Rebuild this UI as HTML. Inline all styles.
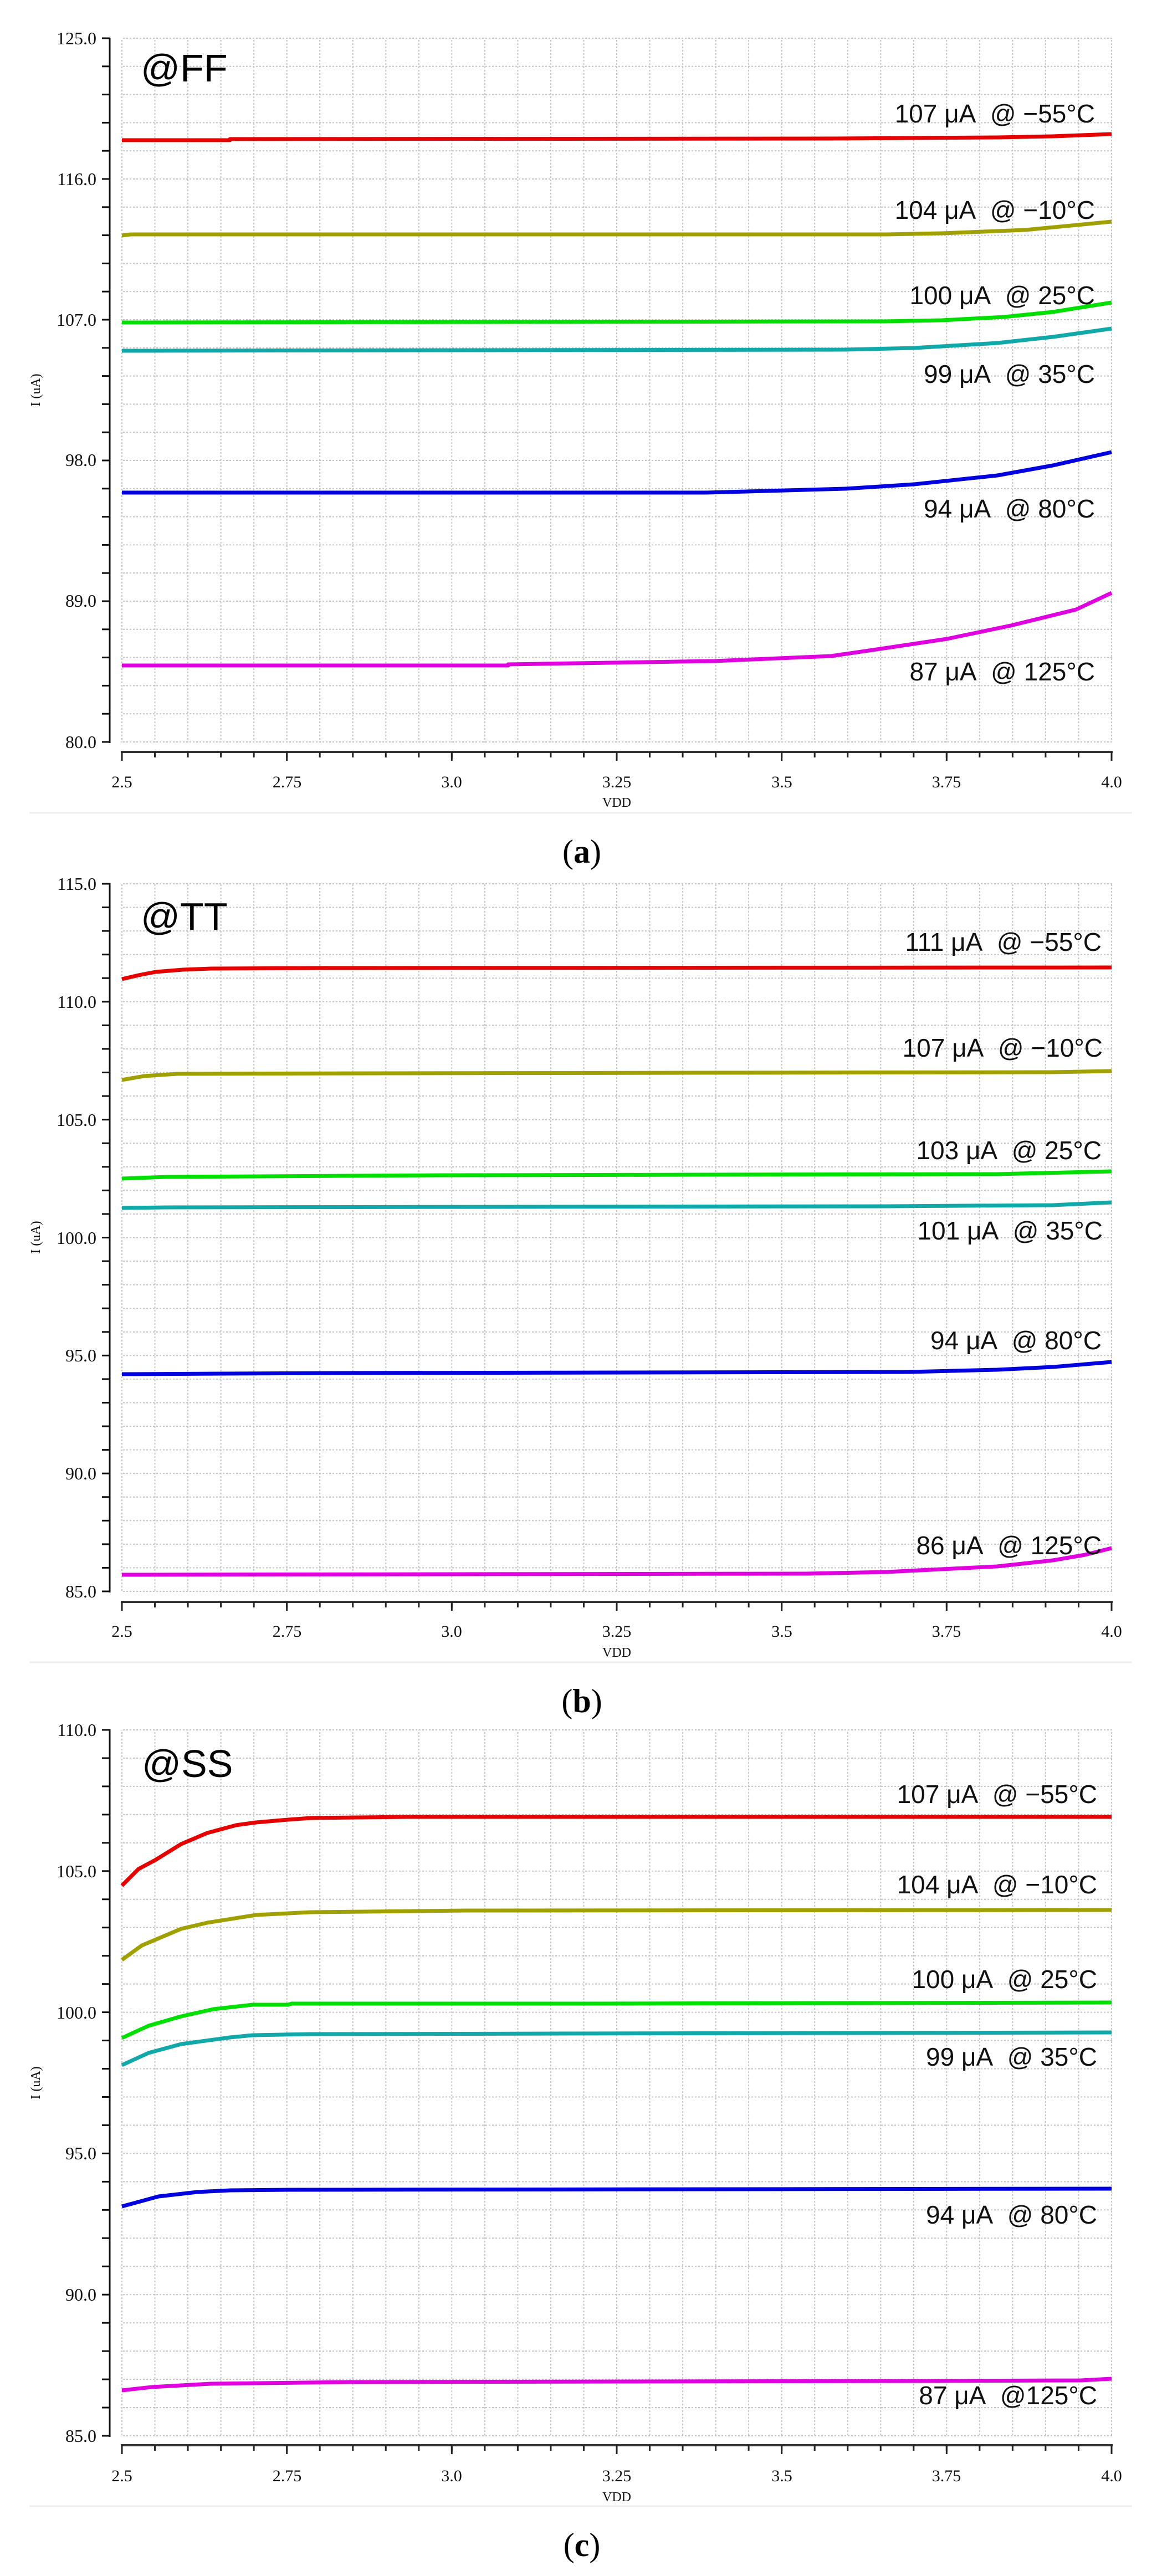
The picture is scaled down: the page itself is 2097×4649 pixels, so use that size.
<!DOCTYPE html>
<html><head><meta charset="utf-8"><style>
html,body{margin:0;padding:0;background:#fff}
svg{display:block}
.lab{font-family:"Liberation Sans",sans-serif;font-size:46px;fill:#111}
.cor{font-family:"Liberation Sans",sans-serif;font-size:70px;fill:#000}
.tk{font-family:"Liberation Serif",serif;font-size:30px;fill:#111}
.yl{font-family:"Liberation Serif",serif;font-size:32px;fill:#111;text-anchor:end}
.cap{font-family:"Liberation Serif",serif;font-size:60px;fill:#000;text-anchor:middle}
.ax{font-family:"Liberation Serif",serif;font-size:24px;fill:#111}
.c{fill:none;stroke-width:7;stroke-linejoin:round}
</style></head><body>
<svg width="2097" height="4649" viewBox="0 0 2097 4649" xmlns="http://www.w3.org/2000/svg">
<defs>
<pattern id="vg" patternUnits="userSpaceOnUse" x="219" y="0" width="59.533" height="6"><rect x="0" y="0" width="2" height="3" fill="#c4c4c4"/></pattern>
<pattern id="hga" patternUnits="userSpaceOnUse" x="0" y="68" width="6" height="50.8"><rect x="0" y="0" width="3" height="2" fill="#c4c4c4"/></pattern>
<pattern id="hgb" patternUnits="userSpaceOnUse" x="0" y="1594" width="6" height="42.567"><rect x="0" y="0" width="3" height="2" fill="#c4c4c4"/></pattern>
<pattern id="hgc" patternUnits="userSpaceOnUse" x="0" y="3121" width="6" height="50.96"><rect x="0" y="0" width="3" height="2" fill="#c4c4c4"/></pattern>
<pattern id="yta" patternUnits="userSpaceOnUse" x="0" y="67.5" width="20" height="50.8"><rect x="0" y="0" width="20" height="3" fill="#111"/></pattern>
<pattern id="ytb" patternUnits="userSpaceOnUse" x="0" y="1593.5" width="20" height="42.567"><rect x="0" y="0" width="20" height="3" fill="#111"/></pattern>
<pattern id="ytc" patternUnits="userSpaceOnUse" x="0" y="3120.5" width="20" height="50.96"><rect x="0" y="0" width="20" height="3" fill="#111"/></pattern>
<pattern id="xtm" patternUnits="userSpaceOnUse" x="218.5" y="0" width="59.533" height="20"><rect x="0" y="0" width="3" height="20" fill="#222"/></pattern>
<pattern id="xtM" patternUnits="userSpaceOnUse" x="218.5" y="0" width="297.667" height="20"><rect x="0" y="0" width="3" height="20" fill="#222"/></pattern>
</defs>

<!-- ===== Panel a ===== -->
<rect x="219" y="69" width="1790" height="1271" fill="url(#vg)"/>
<rect x="219" y="68" width="1790" height="1273" fill="url(#hga)"/>
<rect x="184" y="67" width="14" height="1274" fill="url(#yta)"/>
<line x1="198" y1="68" x2="198" y2="1341" stroke="#111" stroke-width="3"/>
<line x1="218" y1="1357" x2="2008" y2="1357" stroke="#333" stroke-width="4"/>
<rect x="218" y="1357" width="1791" height="10" fill="url(#xtm)"/>
<rect x="218" y="1357" width="1791" height="16" fill="url(#xtM)"/>
<text class="yl" x="174" y="80">125.0</text>
<text class="yl" x="174" y="334">116.0</text>
<text class="yl" x="174" y="588">107.0</text>
<text class="yl" x="174" y="841">98.0</text>
<text class="yl" x="174" y="1095">89.0</text>
<text class="yl" x="174" y="1350">80.0</text>
<text class="ax" transform="translate(72,704) rotate(-90)" text-anchor="middle">I (uA)</text>
<g class="tk" text-anchor="middle">
<text x="220" y="1421">2.5</text><text x="518" y="1421">2.75</text><text x="815" y="1421">3.0</text><text x="1113" y="1421">3.25</text><text x="1411" y="1421">3.5</text><text x="1708" y="1421">3.75</text><text x="2006" y="1421">4.0</text>
</g>
<text class="ax" x="1113" y="1456" text-anchor="middle">VDD</text>
<text class="cor" x="254" y="147">@FF</text>
<polyline class="c" stroke="#e60000" points="220,253 415,253 415,251 1500,250 1800,248 1900,246 2006,242"/>
<polyline class="c" stroke="#a0a000" points="220,425 236,423 1600,423 1700,421 1850,415 2006,400"/>
<polyline class="c" stroke="#00e000" points="220,582 1596,580 1700,578 1812,572 1900,563 2006,546"/>
<polyline class="c" stroke="#10a8a8" points="220,633 1525,631 1650,628 1800,619 1900,608 2006,593"/>
<polyline class="c" stroke="#0000e0" points="220,889 1275,889 1526,882 1650,874 1800,858 1900,840 2006,816"/>
<polyline class="c" stroke="#e000e0" points="220,1201 917,1201 917,1199 1290,1193 1500,1184 1609,1168 1709,1153 1824,1129 1942,1100 2006,1070"/>
<g class="lab" text-anchor="end">
<text x="1976" y="221">107 μA&#160; @ −55°C</text>
<text x="1976" y="395">104 μA&#160; @ −10°C</text>
<text x="1976" y="549">100 μA&#160; @ 25°C</text>
<text x="1976" y="691">99 μA&#160; @ 35°C</text>
<text x="1976" y="934">94 μA&#160; @ 80°C</text>
<text x="1976" y="1228">87 μA&#160; @ 125°C</text>
</g>
<line x1="53" y1="1467" x2="2043" y2="1467" stroke="#eee" stroke-width="3"/>
<text class="cap" x="1050" y="1557">(<tspan font-weight="bold">a</tspan>)</text>

<!-- ===== Panel b ===== -->
<rect x="219" y="1595" width="1790" height="1278" fill="url(#vg)"/>
<rect x="219" y="1594" width="1790" height="1280" fill="url(#hgb)"/>
<rect x="184" y="1593" width="14" height="1281" fill="url(#ytb)"/>
<line x1="198" y1="1594" x2="198" y2="2874" stroke="#111" stroke-width="3"/>
<line x1="218" y1="2891" x2="2008" y2="2891" stroke="#333" stroke-width="4"/>
<rect x="218" y="2891" width="1791" height="10" fill="url(#xtm)"/>
<rect x="218" y="2891" width="1791" height="16" fill="url(#xtM)"/>
<text class="yl" x="174" y="1606">115.0</text>
<text class="yl" x="174" y="1819">110.0</text>
<text class="yl" x="174" y="2032">105.0</text>
<text class="yl" x="174" y="2245">100.0</text>
<text class="yl" x="174" y="2457">95.0</text>
<text class="yl" x="174" y="2670">90.0</text>
<text class="yl" x="174" y="2883">85.0</text>
<text class="ax" transform="translate(72,2233) rotate(-90)" text-anchor="middle">I (uA)</text>
<g class="tk" text-anchor="middle">
<text x="220" y="2954">2.5</text><text x="518" y="2954">2.75</text><text x="815" y="2954">3.0</text><text x="1113" y="2954">3.25</text><text x="1411" y="2954">3.5</text><text x="1708" y="2954">3.75</text><text x="2006" y="2954">4.0</text>
</g>
<text class="ax" x="1113" y="2990" text-anchor="middle">VDD</text>
<text class="cor" x="254" y="1678">@TT</text>
<polyline class="c" stroke="#e60000" points="220,1767 250,1760 281,1754 330,1750 381,1748 595,1747 2006,1746"/>
<polyline class="c" stroke="#a0a000" points="220,1949 260,1942 320,1938 700,1937 1900,1935 2006,1933"/>
<polyline class="c" stroke="#00e000" points="220,2127 300,2124 800,2121 1800,2119 2006,2114"/>
<polyline class="c" stroke="#10a8a8" points="220,2180 300,2179 1600,2177 1900,2175 2006,2170"/>
<polyline class="c" stroke="#0000e0" points="220,2480 600,2478 1640,2476 1800,2472 1900,2467 2006,2458"/>
<polyline class="c" stroke="#e000e0" points="220,2842 1456,2840 1600,2837 1799,2827 1900,2816 1958,2806 2006,2794"/>
<g class="lab" text-anchor="end">
<text x="1988" y="1716">111 μA&#160; @ −55°C</text>
<text x="1990" y="1907">107 μA&#160; @ −10°C</text>
<text x="1988" y="2092">103 μA&#160; @ 25°C</text>
<text x="1990" y="2237">101 μA&#160; @ 35°C</text>
<text x="1988" y="2435">94 μA&#160; @ 80°C</text>
<text x="1988" y="2805">86 μA&#160; @ 125°C</text>
</g>
<line x1="53" y1="3000" x2="2043" y2="3000" stroke="#eee" stroke-width="3"/>
<text class="cap" x="1050" y="3090">(<tspan font-weight="bold">b</tspan>)</text>

<!-- ===== Panel c ===== -->
<rect x="219" y="3122" width="1790" height="1275" fill="url(#vg)"/>
<rect x="219" y="3121" width="1790" height="1277" fill="url(#hgc)"/>
<rect x="184" y="3120" width="14" height="1278" fill="url(#ytc)"/>
<line x1="198" y1="3121" x2="198" y2="4398" stroke="#111" stroke-width="3"/>
<line x1="218" y1="4413" x2="2008" y2="4413" stroke="#333" stroke-width="4"/>
<rect x="218" y="4413" width="1791" height="10" fill="url(#xtm)"/>
<rect x="218" y="4413" width="1791" height="16" fill="url(#xtM)"/>
<text class="yl" x="174" y="3133">110.0</text>
<text class="yl" x="174" y="3388">105.0</text>
<text class="yl" x="174" y="3643">100.0</text>
<text class="yl" x="174" y="3897">95.0</text>
<text class="yl" x="174" y="4152">90.0</text>
<text class="yl" x="174" y="4407">85.0</text>
<text class="ax" transform="translate(72,3759) rotate(-90)" text-anchor="middle">I (uA)</text>
<g class="tk" text-anchor="middle">
<text x="220" y="4478">2.5</text><text x="518" y="4478">2.75</text><text x="815" y="4478">3.0</text><text x="1113" y="4478">3.25</text><text x="1411" y="4478">3.5</text><text x="1708" y="4478">3.75</text><text x="2006" y="4478">4.0</text>
</g>
<text class="ax" x="1113" y="4514" text-anchor="middle">VDD</text>
<text class="cor" x="256" y="3207">@SS</text>
<polyline class="c" stroke="#e60000" points="220,3403 250,3373 280,3357 327,3328 374,3308 426,3294 462,3289 520,3284 561,3281 737,3279 2006,3279"/>
<polyline class="c" stroke="#a0a000" points="220,3537 256,3511 327,3481 374,3470 462,3456 561,3451 843,3448 2006,3447"/>
<polyline class="c" stroke="#00e000" points="220,3678 268,3656 327,3639 385,3626 456,3618 520,3618 526,3616 1060,3616 2006,3614"/>
<polyline class="c" stroke="#10a8a8" points="220,3727 268,3705 327,3689 415,3677 456,3673 561,3671 2006,3668"/>
<polyline class="c" stroke="#0000e0" points="220,3982 286,3964 356,3956 415,3953 520,3952 2006,3950"/>
<polyline class="c" stroke="#e000e0" points="220,4314 274,4308 380,4302 632,4299 1672,4297 1950,4296 2006,4293"/>
<g class="lab" text-anchor="end">
<text x="1980" y="3254">107 μA&#160; @ −55°C</text>
<text x="1980" y="3417">104 μA&#160; @ −10°C</text>
<text x="1980" y="3588">100 μA&#160; @ 25°C</text>
<text x="1980" y="3728">99 μA&#160; @ 35°C</text>
<text x="1980" y="4013">94 μA&#160; @ 80°C</text>
<text x="1980" y="4339">87 μA&#160; @125°C</text>
</g>
<line x1="53" y1="4523" x2="2043" y2="4523" stroke="#eee" stroke-width="3"/>
<text class="cap" x="1050" y="4613">(<tspan font-weight="bold">c</tspan>)</text>
</svg>
</body></html>
